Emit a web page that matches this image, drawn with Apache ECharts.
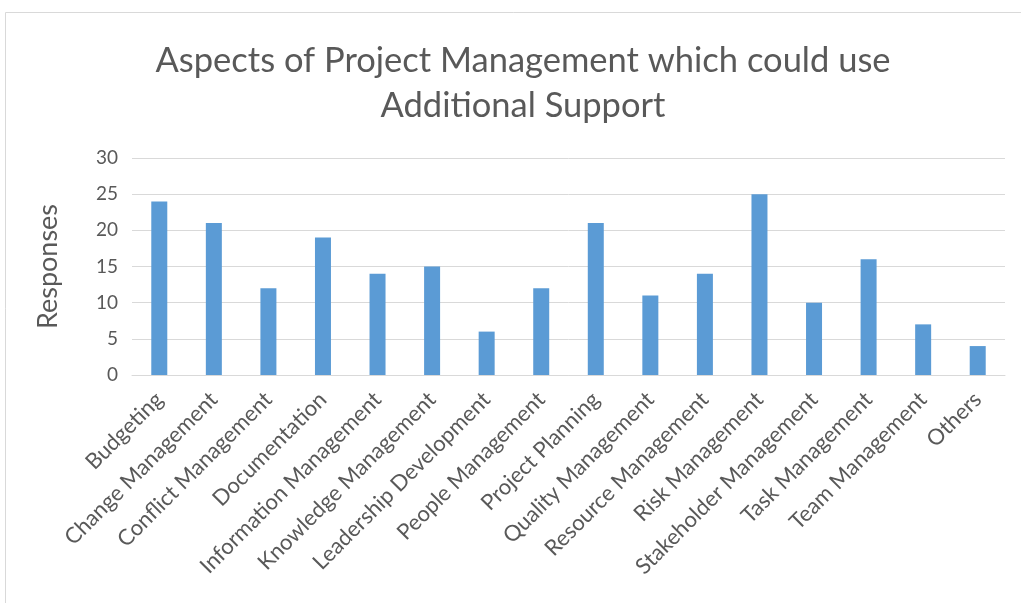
<!DOCTYPE html>
<html>
<head>
    <meta charset="utf-8">
    <title>Project Management Support</title>
    <script src="https://cdn.jsdelivr.net/npm/echarts@6/dist/echarts.min.js"></script>
    <style>
        html, body { margin: 0; padding: 0; background: #fff; }
        #c { width: 1021px; height: 603px; }
    </style>
</head>
<body>
    <div id="c"></div>
    <script>
        // data
        var aspects = ['Budgeting', 'Change Management', 'Conflict Management', 'Documentation',
            'Information Management', 'Knowledge Management', 'Leadership Development',
            'People Management', 'Project Planning', 'Quality Management', 'Resource Management',
            'Risk Management', 'Stakeholder Management', 'Task Management', 'Team Management', 'Others'];
        var responses = [24, 21, 12, 19, 14, 15, 6, 12, 21, 11, 14, 25, 10, 16, 7, 4];
        var yTicks = [0, 5, 10, 15, 20, 25, 30];

        var textFont = 'Lato, "Open Sans", sans-serif';
        var grey = '#595959';

        var myChart = echarts.init(document.getElementById('c'));
        var option = {
            backgroundColor: '#fff',
            animation: false,
            title: {
                text: 'Aspects of Project Management which could use\nAdditional Support',
                left: 518,
                top: 33,
                textAlign: 'center',
                textStyle: {
                    fontFamily: textFont,
                    fontWeight: 'normal',
                    fontSize: 34.5,
                    lineHeight: 45,
                    color: grey
                }
            },
            graphic: [{
                type: 'rect',
                shape: { x: 5.5, y: 12.5, width: 1030, height: 600 },
                style: { fill: 'none', stroke: '#d9d9d9', lineWidth: 1 },
                silent: true
            }],
            grid: { left: 132, right: 16, top: 158, bottom: 228 },
            xAxis: {
                type: 'category',
                data: aspects,
                axisTick: { show: false },
                axisLine: { lineStyle: { color: '#d9d9d9' } },
                axisLabel: {
                    interval: 0,
                    rotate: 45,
                    margin: 21,
                    fontFamily: textFont,
                    fontSize: 22,
                    color: grey
                }
            },
            yAxis: {
                type: 'value',
                min: yTicks[0],
                max: yTicks[yTicks.length - 1],
                interval: 5,
                name: 'Responses',
                nameLocation: 'middle',
                nameGap: 70,
                nameTextStyle: { fontFamily: textFont, fontSize: 27, color: grey },
                axisLine: { show: false },
                axisTick: { show: false },
                axisLabel: { fontFamily: textFont, fontSize: 19, color: grey, margin: 14 },
                splitLine: { lineStyle: { color: '#d9d9d9', width: 1 } }
            },
            series: [{
                type: 'bar',
                data: responses,
                barWidth: 16,
                itemStyle: { color: '#5b9bd5' }
            }]
        };
        myChart.setOption(option);
    </script>
</body>
</html>
